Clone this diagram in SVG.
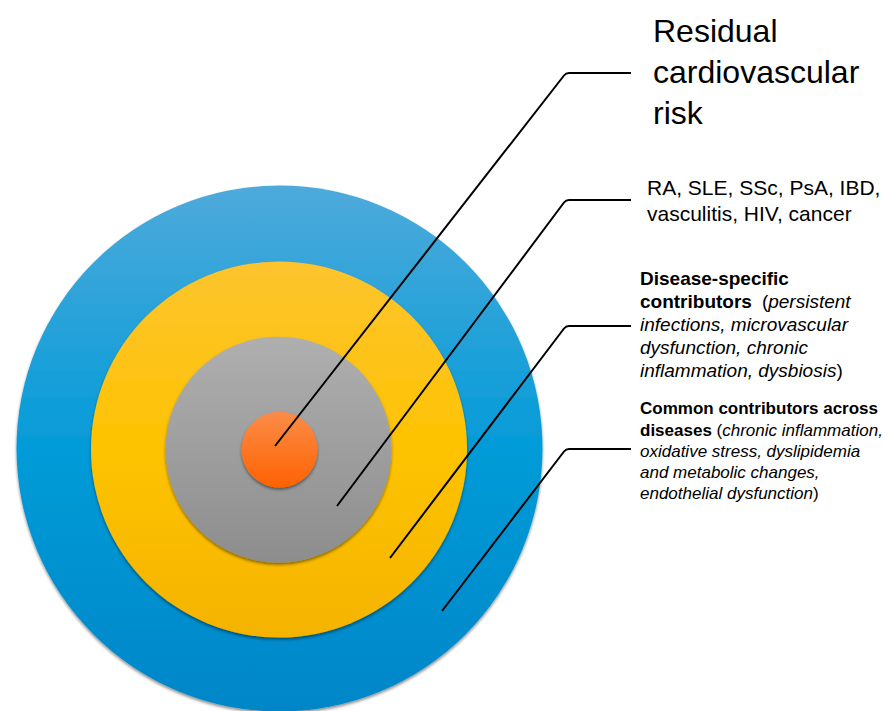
<svg xmlns="http://www.w3.org/2000/svg" width="888" height="711" viewBox="0 0 888 711">
  <style>
    .lbl { font-family: "Liberation Sans", Arial, sans-serif; fill: #000; }
    .b { font-weight: bold; }
    .i { font-style: italic; }
    .conn { fill: none; stroke: #000; stroke-width: 2; stroke-linejoin: round; }
  </style>
  <defs>
    <linearGradient id="gBlue" x1="0" y1="0" x2="0" y2="1">
      <stop offset="0" stop-color="#4eaadb"/>
      <stop offset="0.5" stop-color="#039bd8"/>
      <stop offset="1" stop-color="#0086c8"/>
    </linearGradient>
    <linearGradient id="gYellow" x1="0" y1="0" x2="0" y2="1">
      <stop offset="0" stop-color="#fdc430"/>
      <stop offset="0.5" stop-color="#fdc300"/>
      <stop offset="1" stop-color="#f5b300"/>
    </linearGradient>
    <linearGradient id="gGray" x1="0" y1="0" x2="0" y2="1">
      <stop offset="0" stop-color="#afafaf"/>
      <stop offset="1" stop-color="#8d8d8d"/>
    </linearGradient>
    <linearGradient id="gOrange" x1="0" y1="0" x2="0" y2="1">
      <stop offset="0" stop-color="#fb8c48"/>
      <stop offset="1" stop-color="#ff6200"/>
    </linearGradient>
    <filter id="shadow" x="-10%" y="-10%" width="120%" height="125%">
      <feDropShadow dx="0" dy="2" stdDeviation="1.6" flood-color="#000" flood-opacity="0.45"/>
    </filter>
  </defs>

  <g id="ring-common">
    <circle cx="279.5" cy="448.5" r="263" fill="url(#gBlue)" filter="url(#shadow)"/>
  </g>
  <g id="ring-disease-specific">
    <circle cx="279" cy="449.5" r="188" fill="url(#gYellow)" filter="url(#shadow)"/>
  </g>
  <g id="ring-diseases">
    <circle cx="278.5" cy="449.7" r="113" fill="url(#gGray)" filter="url(#shadow)"/>
  </g>
  <g id="ring-residual">
    <circle cx="279.5" cy="449.7" r="38" fill="url(#gOrange)" filter="url(#shadow)"/>
  </g>

  <g id="connectors">
    <path class="conn" d="M275,446 L564,75.5 Q566,73 569,73 L631,73"/>
    <path class="conn" d="M337,506 L564,202.5 Q566,200 569,200 L631,200"/>
    <path class="conn" d="M390,558 L564,328.5 Q566,326 569,326 L631,326"/>
    <path class="conn" d="M442,611 L564,451.5 Q566,449 569,449 L631,449"/>
  </g>

  <g id="label-residual">
    <text class="lbl" font-size="32">
      <tspan x="653" y="42">Residual</tspan>
      <tspan x="653" y="83">cardiovascular</tspan>
      <tspan x="653" y="124">risk</tspan>
    </text>
  </g>
  <g id="label-diseases">
    <text class="lbl" font-size="21">
      <tspan x="647" y="195">RA, SLE, SSc, PsA, IBD,</tspan>
      <tspan x="647" y="221">vasculitis, HIV, cancer</tspan>
    </text>
  </g>
  <g id="label-disease-specific">
    <text class="lbl" font-size="19">
      <tspan x="640" y="285" class="b">Disease-specific</tspan>
      <tspan x="640" y="308"><tspan class="b">contributors</tspan><tspan dx="10">(</tspan><tspan class="i">persistent</tspan></tspan>
      <tspan x="640" y="331" class="i">infections, microvascular</tspan>
      <tspan x="640" y="354" class="i">dysfunction, chronic</tspan>
      <tspan x="640" y="377"><tspan class="i">inflammation, dysbiosis</tspan>)</tspan>
    </text>
  </g>
  <g id="label-common">
    <text class="lbl" font-size="17">
      <tspan x="640" y="414" class="b">Common contributors across</tspan>
      <tspan x="640" y="436"><tspan class="b">diseases</tspan> (<tspan class="i">chronic inflammation,</tspan></tspan>
      <tspan x="640" y="457" class="i">oxidative stress, dyslipidemia</tspan>
      <tspan x="640" y="478" class="i">and metabolic changes,</tspan>
      <tspan x="640" y="499"><tspan class="i">endothelial dysfunction</tspan>)</tspan>
    </text>
  </g>
</svg>
